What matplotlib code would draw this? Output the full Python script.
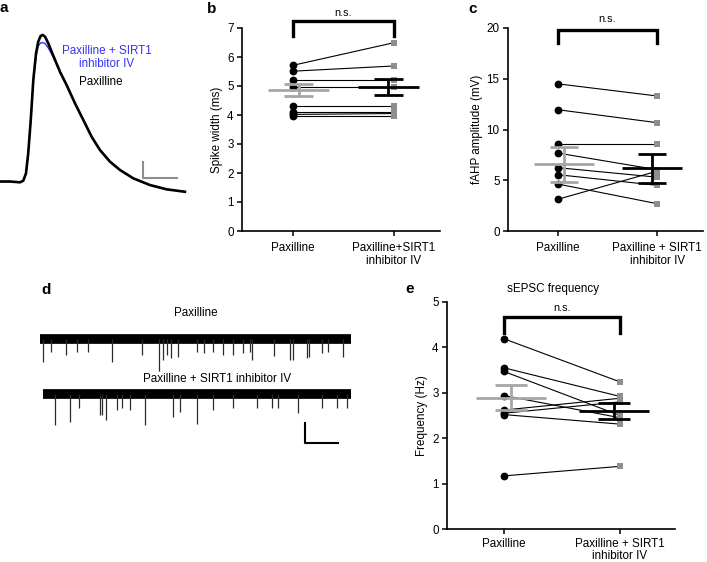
import matplotlib.pyplot as plt

plt.rcParams['font.family'] = ['Liberation Sans', 'DejaVu Sans']
plt.rcParams['font.size'] = 8.4

GRAY = '#8e8e8e'
MEAN_GRAY = '#a6a6a6'
BLUE = '#3434f2'
W, H = 707, 562

# ---- a: averaged action potential (ms, mV)
ap_time_ms = [0.0, 0.59, 1.18, 1.37, 1.53, 1.66, 1.81, 1.96, 2.12, 2.25, 2.39, 2.51,
              2.65, 2.84, 3.04, 3.24, 3.53, 3.92, 4.41, 4.90, 5.39, 5.88, 6.47, 7.06,
              7.84, 8.82, 9.81, 10.88]
ap_paxilline_mv = [0.3, 0.3, -0.2, 0.8, 5.4, 17.9, 38.8, 63.8, 80.4, 87.7, 91.3, 91.9,
                   90.8, 86.7, 81.4, 76.3, 68.9, 60.6, 49.2, 38.8, 28.3, 20.0, 12.7, 7.5,
                   2.3, -1.9, -4.6, -6.1]
ap_sirt1_mv = [0.3, 0.3, -0.2, 0.8, 5.4, 17.9, 38.8, 63.0, 78.5, 85.0, 86.9, 87.1,
               86.6, 83.8, 80.0, 75.6, 68.5, 60.4, 49.4, 39.1, 28.6, 20.3, 12.9, 7.7,
               2.4, -1.8, -4.5, -6.0]

# ---- b: spike width (ms)
width_pax = [5.71, 5.51, 5.20, 4.95, 4.30, 4.10, 4.02, 3.98]
width_sirt1 = [6.49, 5.69, 5.20, 4.95, 4.30, 4.10, 4.05, 3.98]
width_mean = [4.87, 4.97]
width_sem = [0.21, 0.265]

# ---- c: fAHP amplitude (mV)
fahp_pax = [14.5, 11.95, 8.54, 7.68, 6.24, 5.55, 4.63, 3.12]
fahp_sirt1 = [13.3, 10.67, 8.54, 6.04, 5.30, 4.50, 2.69, 5.90]
fahp_mean = [6.57, 6.20]
fahp_sem = [1.72, 1.43]

# ---- d: sEPSC traces, event times (s) and amplitudes (pA)
trace_start_s = [0.0, 0.17]
trace_end_s = 19.0
events_pax_s = [0.17, 0.65, 1.57, 2.24, 2.95, 4.39, 6.22, 7.28, 7.52, 7.75, 7.99, 8.46,
                9.58, 10.03, 10.6, 11.19, 11.82, 12.4, 12.84, 12.95, 14.28, 15.29,
                15.49, 16.31, 16.45, 17.23, 17.61, 18.55]
events_pax_pa = [22.7, 12.7, 16, 12.7, 12.7, 22.7, 16, 31.7, 21, 16, 19, 17.7,
                 12.7, 14, 12.7, 16, 16, 14, 12.7, 21, 17, 21,
                 21, 19, 17.7, 14, 12.7, 17.7]
events_sirt1_s = [0.92, 1.83, 2.4, 3.67, 3.77, 4.04, 4.69, 5.0, 5.5, 6.42, 8.15, 8.56,
                  9.58, 10.58, 11.8, 13.25, 14.17, 14.56, 15.78, 17.23, 18.15, 18.76]
events_sirt1_pa = [31, 27.7, 14, 21, 21, 26, 16, 14, 16, 31, 22.7, 17.7,
                   30, 16, 14, 14, 14, 14, 19, 14, 14, 14]
trace_offset_pa = [0, -55]

# ---- e: sEPSC frequency (Hz)
freq_pax = [4.19, 3.55, 3.47, 2.94, 2.62, 2.55, 2.52, 1.17]
freq_sirt1 = [3.24, 2.92, 2.50, 2.45, 2.88, 2.80, 2.31, 1.38]
freq_mean = [2.89, 2.59]
freq_sem = [0.275, 0.175]


def px_axes(fig, x0, y0, x1, y1):
    """Axes placed by pixel box (left, top, right, bottom)."""
    return fig.add_axes([x0 / W, 1 - y1 / H, (x1 - x0) / W, (y1 - y0) / H])


def paired(ax, left, right, mean, sem, ylim, yticks, ylabel, xlabels,
           bracket, ns_y):
    for a, b in zip(left, right):
        ax.plot([1, 2], [a, b], color='black', lw=0.8, zorder=2)
    ax.plot([1] * len(left), left, 'o', color='black', ms=4.6, zorder=3)
    ax.plot([2] * len(right), right, 's', color=GRAY, ms=4.2, mew=0, zorder=3)
    for x, m, s, c in [(1.06, mean[0], sem[0], MEAN_GRAY),
                       (1.95, mean[1], sem[1], 'black')]:
        ax.hlines(m, x - 0.3, x + 0.3, color=c, lw=2.0, zorder=4)
        ax.vlines(x, m - s, m + s, color=c, lw=2.0, zorder=4)
        ax.hlines([m - s, m + s], x - 0.14, x + 0.14, color=c, lw=2.0, zorder=4)
    lo, hi = bracket
    ax.plot([1, 1, 2, 2], [lo, hi, hi, lo], color='black', lw=2.4,
            solid_joinstyle='miter', clip_on=False)
    ax.text(1.5, ns_y, 'n.s.', ha='center', va='center', fontsize=7.8)
    ax.set_ylim(*ylim)
    ax.set_xlim(0.5, 2.46)
    ax.set_yticks(yticks)
    ax.set_xticks([1, 2], labels=xlabels)
    for lab in ax.get_xticklabels():
        lab.set_linespacing(1.05)
    ax.set_ylabel(ylabel, labelpad=3)
    for side in ['top', 'right']:
        ax.spines[side].set_visible(False)
    for side in ['left', 'bottom']:
        ax.spines[side].set_linewidth(1.2)
    ax.tick_params(direction='out', length=3.5, width=1.1, pad=2.5)
    ax.tick_params(axis='x', pad=4.5)


fig = plt.figure(figsize=(W / 100, H / 100), dpi=100)

# a
ax = px_axes(fig, 0, 20, 190, 200)
ax.plot(ap_time_ms, ap_sirt1_mv, color=BLUE, lw=1.0)
ax.plot(ap_time_ms, ap_paxilline_mv, color='black', lw=1.9)
ax.plot([8.39, 8.39, 10.39], [12.3, 2.3, 2.3], color=GRAY, lw=1.5)
ax.text(6.29, 78, 'Paxilline + SIRT1\ninhibitor IV', color=BLUE, ha='center',
        va='center', linespacing=1.15)
ax.text(5.96, 62.7, 'Paxilline', ha='center', va='center')
ax.set_xlim(0, 11.18)
ax.set_ylim(-11.25, 101.25)
ax.axis('off')

# b
ax = px_axes(fig, 242, 28, 440, 231)
paired(ax, width_pax, width_sirt1, width_mean, width_sem, (0, 7), range(8),
       'Spike width (ms)', ['Paxilline', 'Paxilline+SIRT1\ninhibitor IV'],
       (6.72, 7.24), 7.52)

# c
ax = px_axes(fig, 508, 28, 703, 231)
paired(ax, fahp_pax, fahp_sirt1, fahp_mean, fahp_sem, (0, 20), [0, 5, 10, 15, 20],
       'fAHP amplitude (mV)', ['Paxilline', 'Paxilline + SIRT1\ninhibitor IV'],
       (18.5, 19.8), 20.9)

# d
ax = px_axes(fig, 35, 295, 360, 455)
for start, off, times, amps in [
    (trace_start_s[0], trace_offset_pa[0], events_pax_s, events_pax_pa),
    (trace_start_s[1], trace_offset_pa[1], events_sirt1_s, events_sirt1_pa),
]:
    ax.plot([start, trace_end_s], [off, off], color='black', lw=7,
            solid_capstyle='butt')
    ax.vlines(times, off, [off - a for a in amps], color='#2a2a2a', lw=0.9)
ax.text(9.54, 26, 'Paxilline', ha='center', va='center')
ax.text(10.8, -40, 'Paxilline + SIRT1 inhibitor IV', ha='center', va='center')
ax.plot([16.2, 16.2, 18.2], [-84.3, -104.3, -104.3], color='black', lw=1.5)
ax.set_xlim(-0.306, 19.57)
ax.set_ylim(-116, 44)
ax.axis('off')

# e
ax = px_axes(fig, 447, 302, 675, 529)
paired(ax, freq_pax, freq_sirt1, freq_mean, freq_sem, (0, 5), range(6),
       'Frequency (Hz)', ['Paxilline', 'Paxilline + SIRT1\ninhibitor IV'],
       (4.32, 4.68), 4.87)
ax.tick_params(axis='x', pad=3)
ax.set_xlim(0.509, 2.474)
ax.text(1.42, 5.29, 'sEPSC frequency', ha='center', va='center')

for letter, x, y in [('a', 0, 12), ('b', 207, 13), ('c', 468, 13),
                     ('d', 41, 294), ('e', 405, 293)]:
    fig.text(x / W, 1 - y / H, letter, fontsize=11, fontweight='bold',
             ha='left', va='baseline')

fig.savefig('out.png', dpi=100)
